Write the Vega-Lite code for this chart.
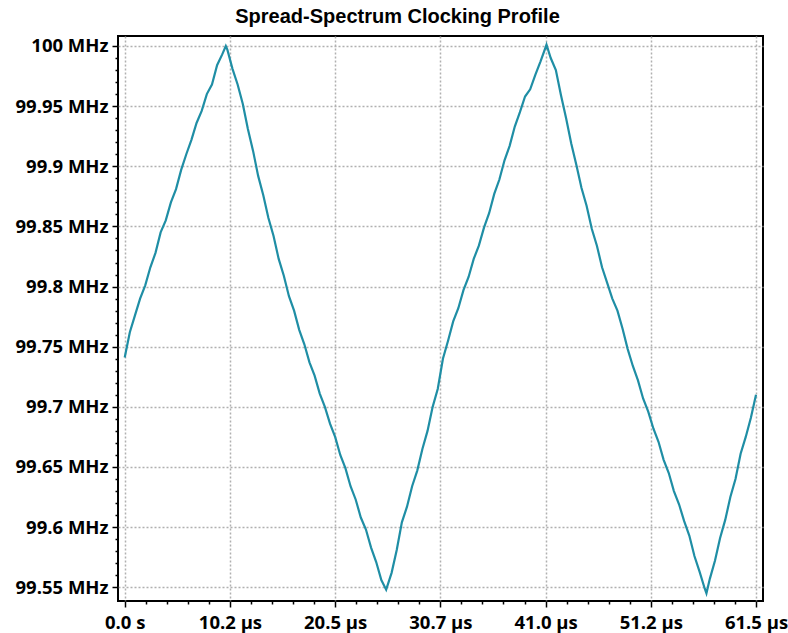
{
  "$schema": "https://vega.github.io/schema/vega-lite/v6.json",
  "width": 645,
  "height": 565,
  "autosize": {"type": "none"},
  "padding": {"left": 118, "top": 36, "right": 25, "bottom": 32},
  "background": "white",
  "title": {"text": "Spread-Spectrum Clocking Profile", "font": "Liberation Sans", "fontSize": 20, "fontWeight": "bold", "color": "black", "offset": 9, "dx": -43},
  "config": {"view": {"stroke": "black", "strokeWidth": 2}},
  "data": {"values": [
    {"t": 0, "f": 99.741}, {"t": 0.5, "f": 99.762}, {"t": 1.0, "f": 99.776}, {"t": 1.5, "f": 99.790}, {"t": 2.0, "f": 99.801},
    {"t": 2.5, "f": 99.816}, {"t": 3.0, "f": 99.828}, {"t": 3.5, "f": 99.845}, {"t": 4.0, "f": 99.855}, {"t": 4.5, "f": 99.870},
    {"t": 5.0, "f": 99.881}, {"t": 5.5, "f": 99.897}, {"t": 6.0, "f": 99.910}, {"t": 6.5, "f": 99.922}, {"t": 7.0, "f": 99.936},
    {"t": 7.5, "f": 99.946}, {"t": 8.0, "f": 99.960}, {"t": 8.5, "f": 99.968}, {"t": 9.0, "f": 99.984}, {"t": 9.5, "f": 99.993},
    {"t": 9.85, "f": 100.000},
    {"t": 10.0, "f": 99.997}, {"t": 10.5, "f": 99.981}, {"t": 11.0, "f": 99.968}, {"t": 11.5, "f": 99.952}, {"t": 12.0, "f": 99.931},
    {"t": 12.5, "f": 99.913}, {"t": 13.0, "f": 99.892}, {"t": 13.5, "f": 99.876}, {"t": 14.0, "f": 99.857}, {"t": 14.5, "f": 99.842},
    {"t": 15.0, "f": 99.823}, {"t": 15.5, "f": 99.809}, {"t": 16.0, "f": 99.792}, {"t": 16.5, "f": 99.780}, {"t": 17.0, "f": 99.764},
    {"t": 17.5, "f": 99.752}, {"t": 18.0, "f": 99.737}, {"t": 18.5, "f": 99.726}, {"t": 19.0, "f": 99.711}, {"t": 19.5, "f": 99.700},
    {"t": 20.0, "f": 99.686}, {"t": 20.5, "f": 99.675}, {"t": 21.0, "f": 99.660}, {"t": 21.5, "f": 99.649}, {"t": 22.0, "f": 99.634},
    {"t": 22.5, "f": 99.623}, {"t": 23.0, "f": 99.608}, {"t": 23.5, "f": 99.598}, {"t": 24.0, "f": 99.583}, {"t": 24.5, "f": 99.571},
    {"t": 25.0, "f": 99.556}, {"t": 25.47, "f": 99.548},
    {"t": 26.0, "f": 99.562}, {"t": 26.5, "f": 99.581}, {"t": 27.0, "f": 99.604}, {"t": 27.5, "f": 99.617}, {"t": 28.0, "f": 99.634},
    {"t": 28.5, "f": 99.647}, {"t": 29.0, "f": 99.665}, {"t": 29.5, "f": 99.680}, {"t": 30.0, "f": 99.700}, {"t": 30.5, "f": 99.715},
    {"t": 31.0, "f": 99.740}, {"t": 31.5, "f": 99.755}, {"t": 32.0, "f": 99.771}, {"t": 32.5, "f": 99.782}, {"t": 33.0, "f": 99.797},
    {"t": 33.5, "f": 99.808}, {"t": 34.0, "f": 99.823}, {"t": 34.5, "f": 99.834}, {"t": 35.0, "f": 99.849}, {"t": 35.5, "f": 99.861},
    {"t": 36.0, "f": 99.877}, {"t": 36.5, "f": 99.889}, {"t": 37.0, "f": 99.905}, {"t": 37.5, "f": 99.917}, {"t": 38.0, "f": 99.933},
    {"t": 38.5, "f": 99.945}, {"t": 39.0, "f": 99.958}, {"t": 39.5, "f": 99.964}, {"t": 40.0, "f": 99.976}, {"t": 40.5, "f": 99.987},
    {"t": 41.09, "f": 100.001},
    {"t": 41.5, "f": 99.990}, {"t": 42.0, "f": 99.980}, {"t": 42.5, "f": 99.959}, {"t": 43.0, "f": 99.940}, {"t": 43.5, "f": 99.919},
    {"t": 44.0, "f": 99.901}, {"t": 44.5, "f": 99.882}, {"t": 45.0, "f": 99.867}, {"t": 45.5, "f": 99.848}, {"t": 46.0, "f": 99.834},
    {"t": 46.5, "f": 99.816}, {"t": 47.0, "f": 99.803}, {"t": 47.5, "f": 99.790}, {"t": 48.0, "f": 99.780}, {"t": 48.5, "f": 99.765},
    {"t": 49.0, "f": 99.748}, {"t": 49.5, "f": 99.734}, {"t": 50.0, "f": 99.722}, {"t": 50.5, "f": 99.707}, {"t": 51.0, "f": 99.696},
    {"t": 51.5, "f": 99.682}, {"t": 52.0, "f": 99.671}, {"t": 52.5, "f": 99.656}, {"t": 53.0, "f": 99.645}, {"t": 53.5, "f": 99.630},
    {"t": 54.0, "f": 99.619}, {"t": 54.5, "f": 99.605}, {"t": 55.0, "f": 99.593}, {"t": 55.5, "f": 99.576}, {"t": 56.0, "f": 99.563},
    {"t": 56.5, "f": 99.549}, {"t": 56.67, "f": 99.545},
    {"t": 57.0, "f": 99.557}, {"t": 57.5, "f": 99.572}, {"t": 58.0, "f": 99.591}, {"t": 58.5, "f": 99.606}, {"t": 59.0, "f": 99.625},
    {"t": 59.5, "f": 99.640}, {"t": 60.0, "f": 99.661}, {"t": 60.5, "f": 99.675}, {"t": 61.0, "f": 99.691}, {"t": 61.5, "f": 99.710}
  ]},
  "mark": {"type": "line", "color": "#1f8ea5", "strokeWidth": 2.2, "clip": true},
  "encoding": {
    "x": {
      "field": "t", "type": "quantitative",
      "scale": {"domain": [-0.653, 62.18], "nice": false, "zero": false},
      "axis": {
        "title": null,
        "values": [0, 2.05, 4.1, 6.15, 8.2, 10.25, 12.3, 14.35, 16.4, 18.45, 20.5, 22.55, 24.6, 26.65, 28.7, 30.75, 32.8, 34.85, 36.9, 38.95, 41, 43.05, 45.1, 47.15, 49.2, 51.25, 53.3, 55.35, 57.4, 59.45, 61.5],
        "labelExpr": "abs(datum.value/10.25 - round(datum.value/10.25)) < 0.001 ? (datum.value == 0 ? '0.0 s' : format(floor(datum.value*10 + 0.0001)/10, '.1f') + ' µs') : ''",
        "tickSize": {"condition": {"test": "abs(datum.value/10.25 - round(datum.value/10.25)) < 0.001", "value": 6}, "value": 3},
        "gridOpacity": {"condition": {"test": "abs(datum.value/10.25 - round(datum.value/10.25)) < 0.001", "value": 1}, "value": 0},
        "domain": false, "grid": true, "gridColor": "#b0b0b0", "gridDash": [2, 2], "gridWidth": 1.5,
        "tickColor": "black", "tickWidth": 1.5,
        "labelFont": "Open Sans", "labelFontSize": 18.5, "labelFontWeight": "bold", "labelColor": "black",
        "labelPadding": 6, "labelOverlap": false, "labelFlush": false, "labelBound": false
      }
    },
    "y": {
      "field": "f", "type": "quantitative",
      "scale": {"domain": [99.5386, 100.0083], "nice": false, "zero": false},
      "axis": {
        "title": null,
        "values": [99.55, 99.56, 99.57, 99.58, 99.59, 99.6, 99.61, 99.62, 99.63, 99.64, 99.65, 99.66, 99.67, 99.68, 99.69, 99.7, 99.71, 99.72, 99.73, 99.74, 99.75, 99.76, 99.77, 99.78, 99.79, 99.8, 99.81, 99.82, 99.83, 99.84, 99.85, 99.86, 99.87, 99.88, 99.89, 99.9, 99.91, 99.92, 99.93, 99.94, 99.95, 99.96, 99.97, 99.98, 99.99, 100],
        "labelExpr": "abs(datum.value*20 - round(datum.value*20)) < 0.001 ? format(datum.value, '.4~r') + ' MHz' : ''",
        "tickSize": {"condition": {"test": "abs(datum.value*20 - round(datum.value*20)) < 0.001", "value": 6}, "value": 3},
        "gridOpacity": {"condition": {"test": "abs(datum.value*20 - round(datum.value*20)) < 0.001", "value": 1}, "value": 0},
        "domain": false, "grid": true, "gridColor": "#b0b0b0", "gridDash": [2, 2], "gridWidth": 1.5,
        "tickColor": "black", "tickWidth": 1.5,
        "labelFont": "Open Sans", "labelFontSize": 18.5, "labelFontWeight": "bold", "labelColor": "black",
        "labelPadding": 4, "labelOverlap": false, "labelBound": false
      }
    }
  }
}
